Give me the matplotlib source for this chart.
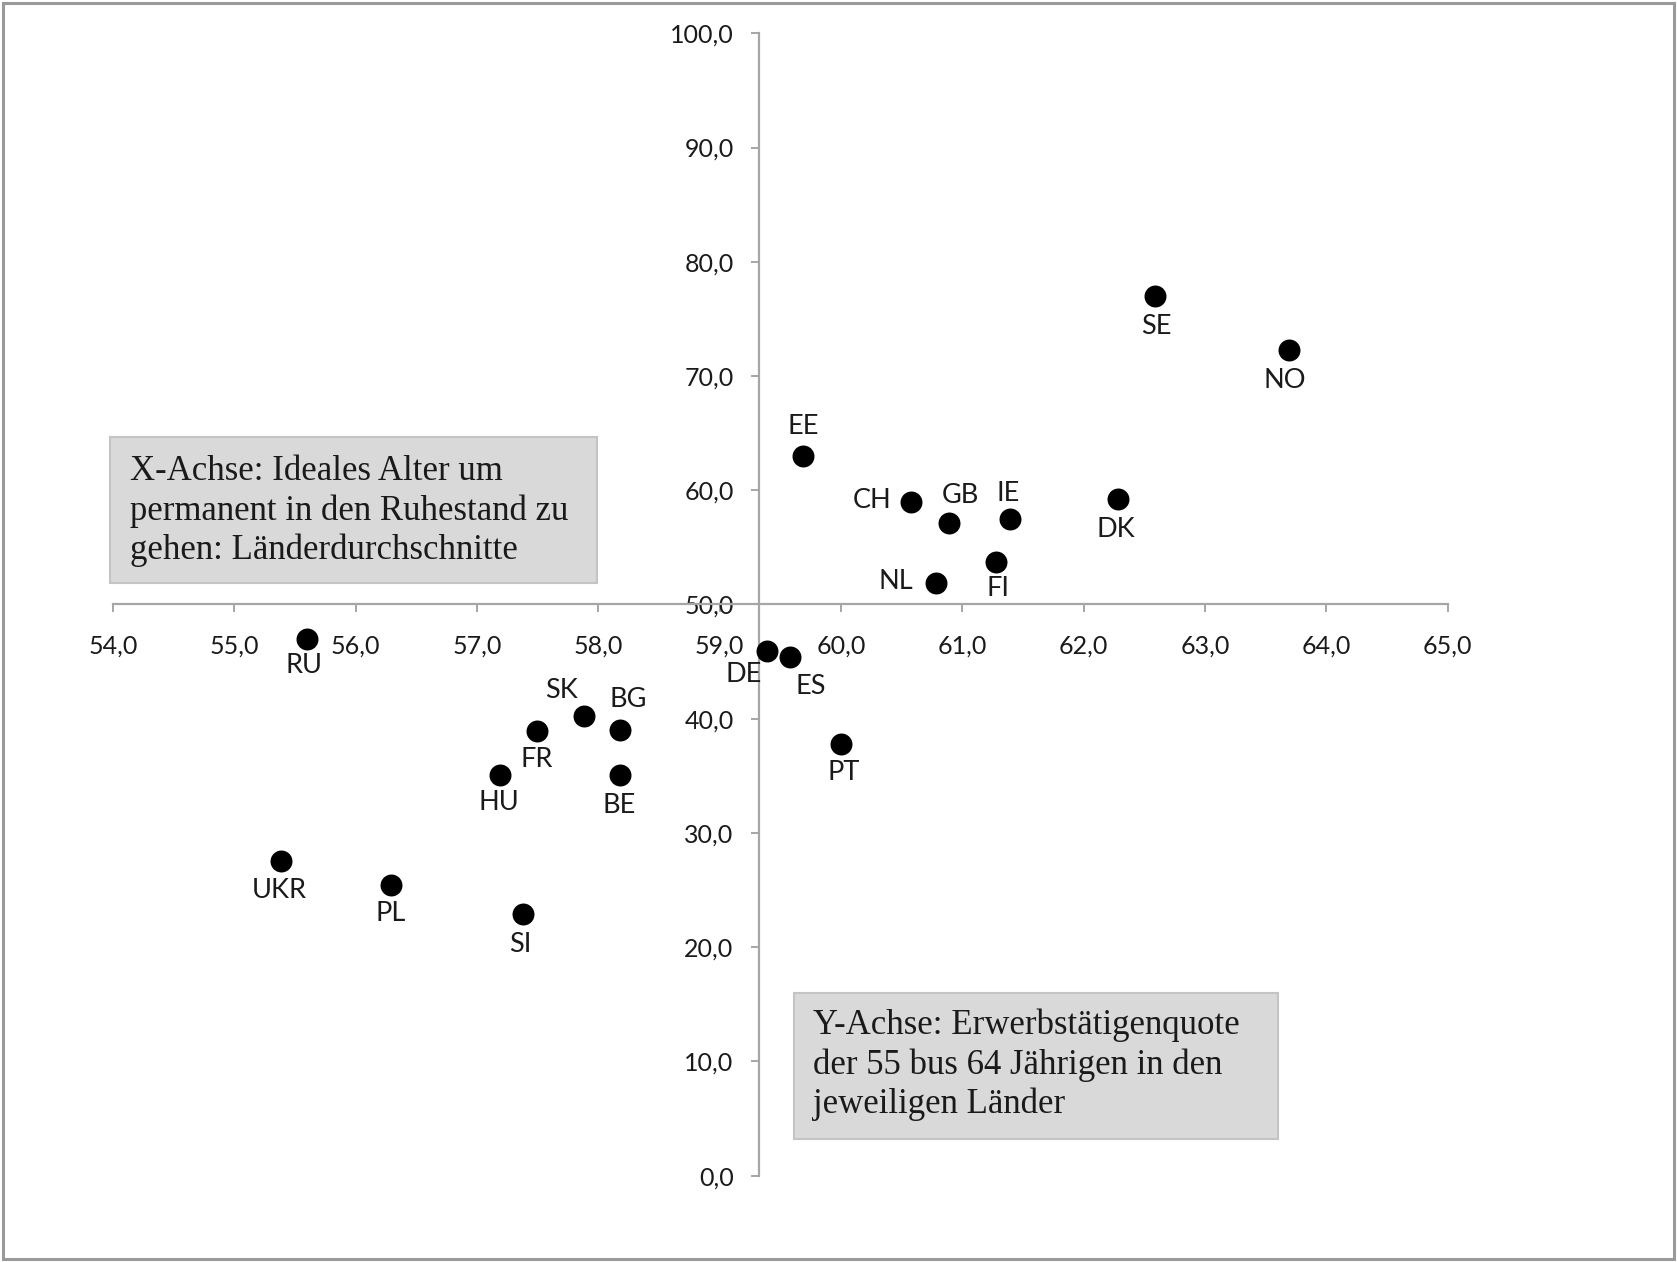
import matplotlib
matplotlib.use("Agg")
import matplotlib.pyplot as plt
from matplotlib.patches import Rectangle
from matplotlib.ticker import FixedLocator, FuncFormatter

# ---- data ----
countries = ["SE", "NO", "EE", "CH", "GB", "IE", "DK", "NL", "FI", "RU", "DE",
             "ES", "SK", "BG", "FR", "HU", "BE", "PT", "UKR", "PL", "SI"]
ideal_age = [62.59, 63.69, 59.69, 60.58, 60.89, 61.39, 62.28, 60.78, 61.28, 55.60, 59.39,
             59.58, 57.88, 58.18, 57.49, 57.19, 58.18, 60.00, 55.38, 56.29, 57.38]
employment = [77.0, 72.3, 63.0, 59.0, 57.1, 57.5, 59.2, 51.9, 53.7, 47.0, 45.9,
              45.4, 40.2, 39.0, 38.9, 35.1, 35.1, 37.8, 27.5, 25.4, 22.9]
x_ticks = [54, 55, 56, 57, 58, 59, 60, 61, 62, 63, 64, 65]
y_ticks = [0, 10, 20, 30, 40, 50, 60, 70, 80, 90, 100]
x_box_text = "X-Achse: Ideales Alter um\npermanent in den Ruhestand zu\ngehen: Länderdurchschnitte"
y_box_text = "Y-Achse: Erwerbstätigenquote\nder 55 bus 64 Jährigen in den\njeweiligen Länder"

# label offsets (points) -- styling only
offsets = {
    "SE": (1, -22), "NO": (-3, -22), "EE": (0, 21), "CH": (-28, 1), "GB": (8, 20),
    "IE": (-1, 18), "DK": (-1, -22), "NL": (-29, 1), "FI": (1, -19), "RU": (-2, -19),
    "DE": (-17, -17), "ES": (15, -21), "SK": (-16, 19), "BG": (6, 22), "FR": (0, -20),
    "HU": (-1, -20), "BE": (-1, -22), "PT": (2, -21), "UKR": (-1, -21), "PL": (0, -20),
    "SI": (-2, -22),
}

W, H = 1677, 1262
fig = plt.figure(figsize=(W / 100, H / 100), dpi=100)
fig.patch.set_facecolor("white")

ax = fig.add_axes([113.1 / W, 86.4 / H, (1447.7 - 113.1) / W, (1175.6 - 33.3) / H])
ax.set_xlim(54, 65)
ax.set_ylim(0, 100)
ax.patch.set_alpha(0)

axis_col = "#a6a6a6"
for s in ["top", "right"]:
    ax.spines[s].set_visible(False)
ax.spines["left"].set_position(("data", 59.32))
ax.spines["bottom"].set_position(("data", 50))
for s in ["left", "bottom"]:
    ax.spines[s].set_color(axis_col)
    ax.spines[s].set_linewidth(1.6)

ax.xaxis.set_major_locator(FixedLocator(x_ticks))
ax.yaxis.set_major_locator(FixedLocator(y_ticks))
fmt = FuncFormatter(lambda v, p: f"{v:.1f}".replace(".", ","))
ax.xaxis.set_major_formatter(fmt)
ax.yaxis.set_major_formatter(fmt)

tick_font = "Lato"
ax.tick_params(axis="both", direction="out", length=6, width=1.4, color=axis_col,
               labelsize=18, labelcolor="#1a1a1a")
ax.tick_params(axis="x", pad=16)
ax.tick_params(axis="y", pad=12)
for lab in ax.get_xticklabels() + ax.get_yticklabels():
    lab.set_fontfamily(tick_font)

ax.scatter(ideal_age, employment, s=250, color="black", zorder=3, linewidths=0)

for c, xv, yv in zip(countries, ideal_age, employment):
    dx, dy = offsets[c]
    ax.annotate(c, (xv, yv), xytext=(dx, dy), textcoords="offset points",
                ha="center", va="center", fontsize=19.5, family=tick_font,
                color="#1a1a1a", zorder=4)

# text boxes
def box(x0, y0_top, x1, y1_bot, tx, ty_mid, text):
    fig.patches.append(Rectangle((x0 / W, 1 - y1_bot / H), (x1 - x0) / W, (y1_bot - y0_top) / H,
                                 transform=fig.transFigure, facecolor="#d9d9d9",
                                 edgecolor="#c4c4c4", linewidth=1.5, zorder=5))
    fig.text(tx / W, 1 - ty_mid / H, text, ha="left", va="center", fontsize=25,
             family="Liberation Serif", color="#1a1a1a", linespacing=1.24, zorder=6)

box(110, 437, 597, 583, 130.5, 511, x_box_text)
box(793.6, 992.5, 1278, 1139, 813, 1065, y_box_text)

# figure border
fig.patches.append(Rectangle((3 / W, 3 / H), (W - 6) / W, (H - 6) / H, transform=fig.transFigure,
                             facecolor="none", edgecolor="#9a9a9a", linewidth=2.2, zorder=10))

fig.savefig("out.png", dpi=100)
